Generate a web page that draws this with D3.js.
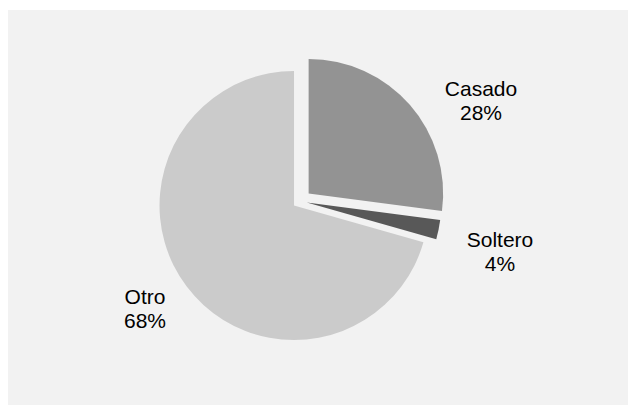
<!DOCTYPE html>
<html lang="es">
<head>
    <meta charset="UTF-8">
    <title>Estado civil</title>
    <style>
        body {
            margin: 0;
            background-color: #ffffff;
            overflow: hidden;
        }
        svg {
            display: block;
        }
        .slice-label {
            font-family: "Liberation Sans", Arial, sans-serif;
            font-size: 21px;
            fill: #000000;
            text-anchor: middle;
        }
    </style>
</head>
<body>
    <svg id="pieChart"></svg>

    <script src="https://d3js.org/d3.v7.min.js"></script>
    <script>
        // Data (slice shares as drawn, labels as printed)
        const categories = ["Casado", "Soltero", "Otro"];
        const shares = [27.1, 2.3, 70.6];
        const percentLabels = ["28%", "4%", "68%"];

        const colors = ["#939393", "#585858", "#cbcbcb"];
        // how far each slice is pulled out from the centre (px)
        const explode = [11.5, 7, 7.5];
        // where each label block sits, relative to the pie centre
        const labelOffset = [[181, -102], [200, 49], [-155, 106]];

        const width = 628, height = 405;
        const center = { x: 300, y: 201 };
        const radius = 134.5;

        const svg = d3.select("#pieChart")
            .attr("width", width)
            .attr("height", height);

        // chart area background
        svg.append("rect")
            .attr("x", 8)
            .attr("y", 10)
            .attr("width", width - 8)
            .attr("height", height - 10)
            .attr("fill", "#f2f2f2");

        const data = categories.map((c, i) => ({
            name: c,
            value: shares[i],
            label: percentLabels[i],
            color: colors[i],
            explode: explode[i],
            offset: labelOffset[i]
        }));

        const pie = d3.pie()
            .sort(null)
            .value(d => d.value)
            .startAngle(0)
            .endAngle(2 * Math.PI);

        const arc = d3.arc()
            .innerRadius(0)
            .outerRadius(radius);

        const g = svg.append("g")
            .attr("transform", `translate(${center.x},${center.y})`);

        g.selectAll("path.slice")
            .data(pie(data))
            .enter()
            .append("path")
            .attr("class", "slice")
            .attr("fill", d => d.data.color)
            .attr("transform", d => {
                const mid = (d.startAngle + d.endAngle) / 2;
                const dx = d.data.explode * Math.sin(mid);
                const dy = -d.data.explode * Math.cos(mid);
                return `translate(${dx},${dy})`;
            })
            .attr("d", arc);

        // labels: name on first line, percentage below
        const labels = g.selectAll("text.slice-label")
            .data(data)
            .enter()
            .append("text")
            .attr("class", "slice-label")
            .attr("transform", d => `translate(${d.offset[0]},${d.offset[1]})`);

        labels.append("tspan")
            .attr("x", 0)
            .attr("y", -3)
            .text(d => d.name);

        labels.append("tspan")
            .attr("x", 0)
            .attr("y", 21)
            .text(d => d.label);
    </script>
</body>
</html>
